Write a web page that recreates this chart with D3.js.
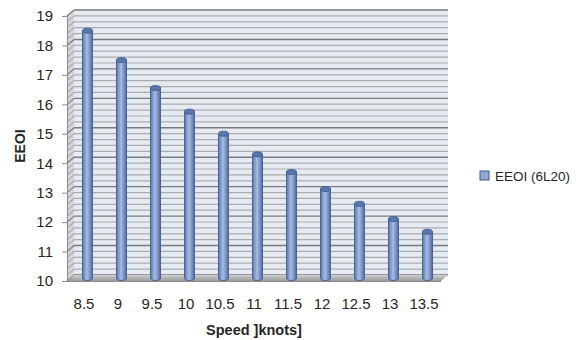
<!DOCTYPE html>
<html>
<head>
<script src="https://d3js.org/d3.v7.min.js"></script>
<style>
  body { margin: 0; background: #fff; }
  text { font-family: "Liberation Sans", Arial, sans-serif; fill: #262626; }
</style>
</head>
<body>
<svg width="579" height="340"></svg>
<script>
const speeds = ["8.5", "9", "9.5", "10", "10.5", "11", "11.5", "12", "12.5", "13", "13.5"];
const eeoi = [18.4, 17.4, 16.45, 15.65, 14.9, 14.2, 13.6, 13.02, 12.52, 12.0, 11.57];
const yTicks = [10, 11, 12, 13, 14, 15, 16, 17, 18, 19];
const seriesName = "EEOI (6L20)";

const svg = d3.select("svg");
const pLeft = 67, pRight = 441, pTop = 16, pBottom = 281;
const depthX = 7, depthY = -6;   // 3d offset of back wall
const midX = 3.5, midY = -3;     // bars sit half way in

const x = d3.scaleBand().domain(speeds).range([pLeft, pRight]);
const y = d3.scaleLinear().domain([10, 19]).range([pBottom, pTop]);

const defs = svg.append("defs");
const grad = defs.append("linearGradient").attr("id", "cyl");
grad.append("stop").attr("offset", "0%").attr("stop-color", "#5a78b0");
grad.append("stop").attr("offset", "45%").attr("stop-color", "#a9bde2");
grad.append("stop").attr("offset", "100%").attr("stop-color", "#4d6ca6");

const floorGrad = defs.append("linearGradient").attr("id", "floor")
  .attr("x1", 0).attr("y1", 0).attr("x2", 0).attr("y2", 1);
floorGrad.append("stop").attr("offset", "0%").attr("stop-color", "#d0d0d0");
floorGrad.append("stop").attr("offset", "100%").attr("stop-color", "#9a9a9a");

// back wall
svg.append("rect")
  .attr("x", pLeft + depthX).attr("y", pTop + depthY)
  .attr("width", pRight - pLeft).attr("height", pBottom - pTop)
  .attr("fill", "#e6eaf2");

// side wall
svg.append("path")
  .attr("d", `M${pLeft},${pTop}L${pLeft + depthX},${pTop + depthY}L${pLeft + depthX},${pBottom + depthY}L${pLeft},${pBottom}Z`)
  .attr("fill", "#d3d5d9");

const gridVals = d3.range(0, 46).map(i => 10 + i * 0.2);
gridVals.forEach((v, i) => {
  const major = i % 5 === 0;
  const col = major ? "#7a7a7a" : "#ababab";
  svg.append("line")
    .attr("x1", pLeft + depthX).attr("x2", pRight + depthX)
    .attr("y1", y(v) + depthY).attr("y2", y(v) + depthY)
    .attr("stroke", col).attr("stroke-width", major ? 1.4 : 1.2);
  svg.append("line")
    .attr("x1", pLeft).attr("x2", pLeft + depthX)
    .attr("y1", y(v)).attr("y2", y(v) + depthY)
    .attr("stroke", col).attr("stroke-width", 1.2);
});

// floor
svg.append("path")
  .attr("d", `M${pLeft},${pBottom}L${pRight},${pBottom}L${pRight + depthX},${pBottom + depthY}L${pLeft + depthX},${pBottom + depthY}Z`)
  .attr("fill", "url(#floor)");
svg.append("line")
  .attr("x1", pLeft).attr("x2", pRight).attr("y1", pBottom + 0.5).attr("y2", pBottom + 0.5)
  .attr("stroke", "#8c8c8c");

// bars as cylinders
const bw = 10, ry = 2.5;
const bars = svg.append("g").selectAll("g").data(eeoi).join("g");
bars.append("path")
  .attr("d", (d, i) => {
    const cx = x(speeds[i]) + x.bandwidth() / 2 + midX;
    const yt = y(d) + midY, yb = y(10) + midY;
    return `M${cx - bw / 2},${yt}L${cx - bw / 2},${yb}A${bw / 2},${ry} 0 0 0 ${cx + bw / 2},${yb}L${cx + bw / 2},${yt}Z`;
  })
  .attr("fill", "url(#cyl)").attr("stroke", "#3d5d91").attr("stroke-width", 0.9);
bars.append("ellipse")
  .attr("cx", (d, i) => x(speeds[i]) + x.bandwidth() / 2 + midX)
  .attr("cy", d => y(d) + midY)
  .attr("rx", bw / 2).attr("ry", ry)
  .attr("fill", "#5878ad").attr("stroke", "#3d5d91").attr("stroke-width", 0.9);

// axes
const yAxis = svg.append("g").attr("transform", `translate(${pLeft},0)`)
  .call(d3.axisLeft(y).tickValues(yTicks).tickSize(5).tickPadding(9));
yAxis.select(".domain").attr("stroke", "#8c8c8c");
yAxis.selectAll(".tick line").attr("stroke", "#8c8c8c");
yAxis.selectAll("text").style("font-size", "15px").attr("fill", "#262626");

const xAxis = svg.append("g").attr("transform", `translate(0,${pBottom})`)
  .call(d3.axisBottom(x).tickSize(0).tickPadding(17));
xAxis.select(".domain").remove();
xAxis.selectAll("text").style("font-size", "15px").attr("fill", "#262626");

// axis titles
svg.append("text")
  .attr("transform", "translate(25,146) rotate(-90)")
  .attr("text-anchor", "middle")
  .style("font-size", "14px").style("font-weight", "bold")
  .text("EEOI");
svg.append("text")
  .attr("x", 254).attr("y", 335)
  .attr("text-anchor", "middle")
  .style("font-size", "14.5px").style("font-weight", "bold")
  .text("Speed ]knots]");

// legend
const lg = svg.append("g").attr("transform", "translate(480,171)");
lg.append("rect").attr("width", 9).attr("height", 9)
  .attr("fill", "#8fa8d6").attr("stroke", "#3d5d91");
lg.append("text").attr("x", 15).attr("y", 10)
  .style("font-size", "13.5px").text(seriesName);
</script>
</body>
</html>
